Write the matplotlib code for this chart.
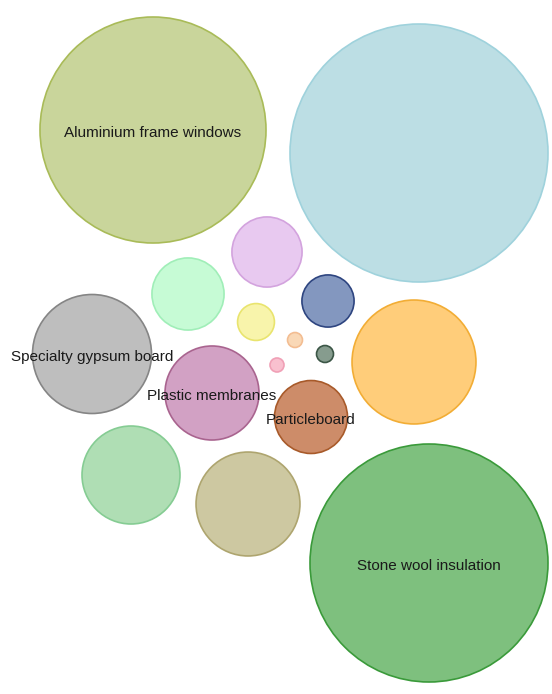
import numpy as np
import matplotlib.pyplot as plt
from matplotlib.patches import Circle

# Bubble data (values ~ area, positions in layout units)
labels = ["Aluminium frame windows", "", "", "", "", "", "", "", "",
          "", "Specialty gypsum board", "Plastic membranes", "Particleboard",
          "", "", "Stone wool insulation"]
values = [127.7, 166.4, 12.3, 13.0, 6.8, 3.4, 0.56, 0.72, 0.49,
          38.4, 35.4, 22.1, 13.3, 24.0, 27.0, 141.6]
cx = [153, 419, 267, 188, 328, 256, 295, 325, 277, 414, 92, 212, 311, 131, 248, 429]
cy = [130, 153, 252, 294, 301, 322, 340, 354, 365, 362, 354, 393, 417, 475, 504, 563]

fills = ["#c9d59b", "#bcdee4", "#e8c9f0", "#c6fbd5", "#8397bf", "#f8f4ab",
         "#f9d8b6", "#869c8e", "#f9c0cf", "#ffcd7a", "#bebebe", "#d2a1c4",
         "#cd8c69", "#afdeb4", "#cdc8a1", "#7ec07e"]
edges = ["#a9bb58", "#9fd2dc", "#d3a3de", "#a0eeb8", "#2e4580", "#e9e46e",
         "#f3bd92", "#3b5646", "#f0a0b6", "#f2ad35", "#858585", "#a9648f",
         "#a85a2a", "#85cc93", "#aea56f", "#3a9a3a"]

fig = plt.figure(figsize=(5.52, 6.94), dpi=100)
ax = fig.add_axes([0, 0, 1, 1])
ax.set_xlim(0, 552)
ax.set_ylim(694, 0)
ax.set_aspect("equal")
ax.axis("off")

for i in range(len(values)):
    r = 10 * np.sqrt(values[i])
    ax.add_patch(Circle((cx[i], cy[i]), r, facecolor=fills[i],
                        edgecolor=edges[i], linewidth=1.2))

for i, lab in enumerate(labels):
    if lab:
        ax.text(cx[i], cy[i] + 2.5, lab, ha="center", va="center",
                fontsize=11, color="#1a1a1a", family="Liberation Sans")

fig.savefig("out.png", dpi=100)
